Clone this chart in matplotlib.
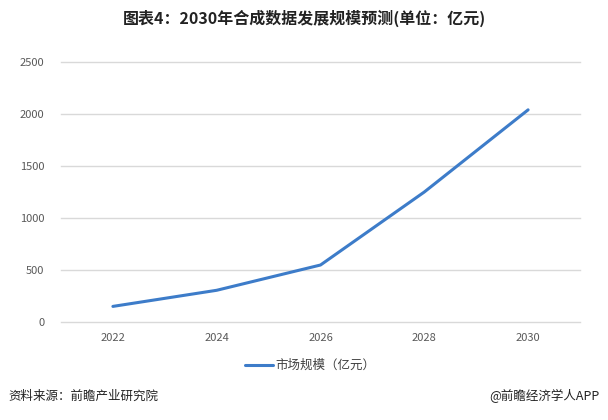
import matplotlib.pyplot as plt

plt.rcParams['font.family'] = ['Noto Sans CJK SC', 'DejaVu Sans']

years = ['2022', '2024', '2026', '2028', '2030']
market = [150, 305, 548, 1250, 2040]
yticks = [0, 500, 1000, 1500, 2000, 2500]

fig = plt.figure(figsize=(6.08, 4.2), dpi=100)
ax = fig.add_axes([61/608, 1-322/420, (580-61)/608, (322-62)/420])

x = range(len(years))
ax.plot(x, market, color='#3d7cc9', lw=2.2, solid_capstyle='round', label='市场规模（亿元）')

ax.set_xlim(-0.5, len(years)-0.5)
ax.set_ylim(0, 2500)
ax.set_yticks(yticks)
ax.set_xticks(list(x))
ax.set_xticklabels(years)
ax.grid(axis='y', color='#d9d9d9', lw=1)
for gl in ax.get_ygridlines():
    gl.set_clip_on(False)
ax.set_axisbelow(True)
for s in ax.spines.values():
    s.set_visible(False)
ax.tick_params(length=0, labelsize=8, colors='#595959', pad=8)
ax.tick_params(axis='y', pad=12)

ax.legend(loc='upper center', bbox_to_anchor=(0.48, -0.1), frameon=False,
          fontsize=9, handlelength=2.2, handletextpad=0.2, labelcolor='#404040')

fig.text(0.5, 1-18/420, '图表4：2030年合成数据发展规模预测(单位：亿元)', ha='center', va='center',
         fontsize=11.5, fontweight='bold', color='#222222')
fig.text(8/608, 1-396/420, '资料来源：前瞻产业研究院', ha='left', va='center', fontsize=9, color='#222222')
fig.text(600/608, 1-396/420, '@前瞻经济学人APP', ha='right', va='center', fontsize=9, color='#222222')

fig.savefig('out.png', dpi=100)
